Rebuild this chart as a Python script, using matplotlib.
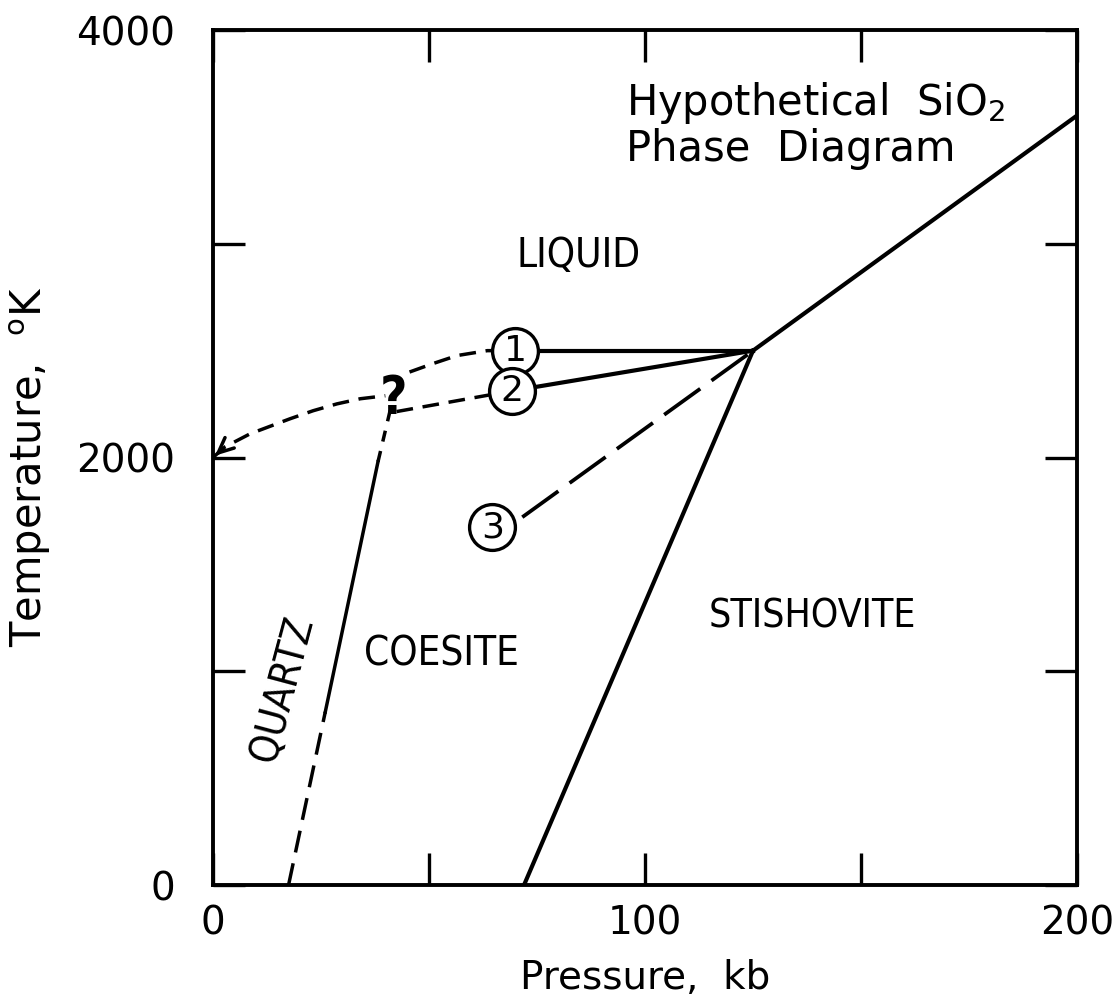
import matplotlib.pyplot as plt

plt.rcParams['font.family'] = ['DejaVu Sans']
plt.rcParams['lines.scale_dashes'] = False

# axis ticks
x_ticks = [0, 50, 100, 150, 200]
x_tick_labels = ['0', '', '100', '', '200']
y_ticks = [0, 1000, 2000, 3000, 4000]
y_tick_labels = ['0', '', '2000', '', '4000']

# phase boundaries, pressure (kb) vs temperature (K)
stish_p = [72, 125]
stish_t = [0, 2500]
melt_p = [125, 200]
melt_t = [2500, 3600]

quartz_low_p = [17.5, 26]
quartz_low_t = [0, 810]
quartz_mid_p = [26, 38.2]
quartz_mid_t = [810, 1980]
quartz_top_p = [38.2, 41.3]
quartz_top_t = [1980, 2245]

# uncertain liquidus curves
liq_left_p = [0, 2.8, 8.6, 17.8, 23.2, 28.7, 34.1, 39.9]
liq_left_t = [2000, 2050, 2111, 2181, 2219, 2251, 2275, 2289]
liq1_p = [45.5, 51, 56.5, 63.5, 70]
liq1_t = [2400, 2440, 2477, 2500, 2500]
liq2_p = [42.5, 69.3]
liq2_t = [2215, 2312]

# numbered melting curves to the triple point
curve1_p = [70, 125]
curve1_t = [2500, 2500]
curve2_p = [69.3, 125]
curve2_t = [2312, 2500]
curve3_p = [71.6, 125]
curve3_t = [1721, 2500]

circle_p = [70, 69.3, 64.7]
circle_t = [2500, 2312, 1675]
circle_labels = ['1', '2', '3']

fig = plt.figure(figsize=(11.19, 10.07), dpi=100)
ax = fig.add_axes([0.1903, 0.1211, 0.7722, 0.8491])

lw = 3.0
dlw = 2.5
ax.plot(stish_p, stish_t, color='black', lw=lw)
ax.plot(melt_p, melt_t, color='black', lw=lw)
ax.plot(quartz_mid_p, quartz_mid_t, color='black', lw=dlw)
ax.plot(quartz_low_p, quartz_low_t, color='black', lw=dlw, linestyle=(0, (16, 8)))
ax.plot(quartz_top_p, quartz_top_t, color='black', lw=dlw, linestyle=(0, (8, 7)))

ax.plot(liq_left_p, liq_left_t, color='black', lw=dlw, linestyle=(0, (12, 7)))
ax.plot(liq1_p, liq1_t, color='black', lw=dlw, linestyle=(0, (12, 7)))
ax.plot(liq2_p, liq2_t, color='black', lw=dlw, linestyle=(0, (12, 7)))
ax.annotate('', xy=(liq_left_p[0], liq_left_t[0]), xytext=(liq_left_p[1], liq_left_t[1]),
            arrowprops=dict(arrowstyle='->, head_length=1.1, head_width=0.5', lw=dlw, color='black'))

ax.plot(curve1_p, curve1_t, color='black', lw=lw)
ax.plot(curve2_p, curve2_t, color='black', lw=lw)
ax.plot(curve3_p, curve3_t, color='black', lw=2.7, linestyle=(0, (32, 10)))

cond = dict(family=['Liberation Sans Narrow', 'DejaVu Sans'], stretch='condensed')

# question mark, its dot sits on the junction
ax.text(41.8, 2205, '?', fontsize=38, fontweight='bold', ha='center', va='baseline', **cond)

for p, t, lab in zip(circle_p, circle_t, circle_labels):
    ax.plot(p, t, 'o', ms=33, mfc='white', mec='black', mew=2.4, zorder=5)
    ax.text(p, t, lab, fontsize=26, ha='center', va='center', zorder=6)

ax.text(95.5, 3658, 'Hypothetical  SiO$_2$', fontsize=30, ha='left', va='center')
ax.text(95.5, 3445, 'Phase  Diagram', fontsize=30, ha='left', va='center')

ax.text(84.6, 2941, 'LIQUID', fontsize=29, ha='center', va='center', **cond)
ax.text(52.8, 1079, 'COESITE', fontsize=29, ha='center', va='center', **cond)
ax.text(138.8, 1257, 'STISHOVITE', fontsize=28, ha='center', va='center', **cond)
ax.text(16.2, 915, 'QUARTZ', fontsize=29, ha='center', va='center', rotation=75, **cond)

ax.set_xlim(0, 200)
ax.set_ylim(0, 4000)
ax.set_xticks(x_ticks)
ax.set_xticklabels(x_tick_labels)
ax.set_yticks(y_ticks)
ax.set_yticklabels(y_tick_labels)
ax.tick_params(direction='in', length=23, width=2.4, top=True, right=True, labelsize=28)
ax.tick_params(axis='x', pad=14)
ax.tick_params(axis='y', pad=27)
for s in ax.spines.values():
    s.set_linewidth(2.8)

ax.set_xlabel('Pressure,  kb', fontsize=28)
ax.set_ylabel('Temperature,  $^{\\mathregular{o}}$K', fontsize=30)
ax.xaxis.set_label_coords(0.5, -0.087)
ax.yaxis.set_label_coords(-0.185, 0.49)

fig.savefig('out.png', dpi=100)
